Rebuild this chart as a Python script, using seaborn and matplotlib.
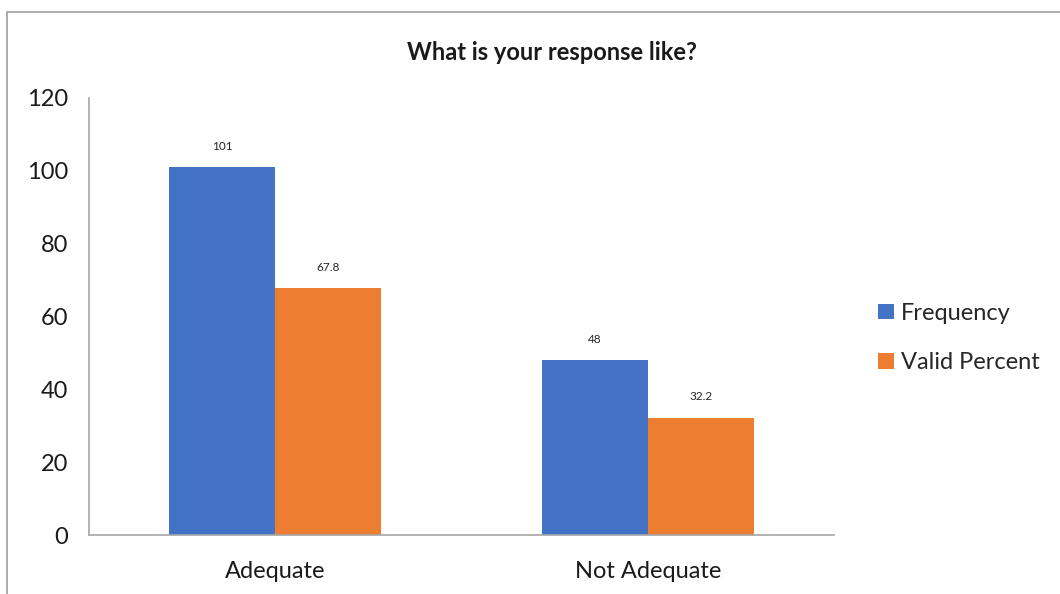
import matplotlib
matplotlib.use("Agg")
import matplotlib.pyplot as plt
import seaborn as sns
import pandas as pd
from matplotlib.patches import Rectangle

# Survey responses: counts and valid percentages
categories = ["Adequate", "Not Adequate"]
series_names = ["Frequency", "Valid Percent"]
frequency = [101, 48]
valid_percent = [67.8, 32.2]
y_ticks = [0, 20, 40, 60, 80, 100, 120]

df = pd.DataFrame({
    "Response": categories * 2,
    "Series": [series_names[0]] * len(categories) + [series_names[1]] * len(categories),
    "Value": frequency + valid_percent,
})

sns.set_theme(style="white")
plt.rcParams["font.family"] = ["Lato", "DejaVu Sans"]

fig = plt.figure(figsize=(10.6, 5.94), dpi=100)
ax = fig.add_axes([89 / 1060, 59 / 594, 745 / 1060, 437 / 594])

palette = {"Frequency": "#4472C4", "Valid Percent": "#ED7D31"}
sns.barplot(data=df, x="Response", y="Value", hue="Series", palette=palette,
            width=0.57, saturation=1, linewidth=0, ax=ax, legend=True)

for cont in ax.containers:
    labels = [f"{v:g}" for v in cont.datavalues]
    ax.bar_label(cont, labels=labels, padding=11, fontsize=8.5, color="#262626")

ax.set_ylim(0, 120)
ax.set_yticks(y_ticks)
ax.set_xlim(-0.5, 1.5)
ax.set_xlabel("")
ax.set_ylabel("")
ax.tick_params(axis="y", length=0, pad=15, labelsize=17, labelcolor="#1a1a1a")
ax.tick_params(axis="x", length=0, pad=19, labelsize=17, labelcolor="#1a1a1a")
for side in ["top", "right"]:
    ax.spines[side].set_visible(False)
for side in ["left", "bottom"]:
    ax.spines[side].set_color("#A6A6A6")
    ax.spines[side].set_linewidth(1.2)

fig.text(552 / 1060, 1 - 52 / 594, "What is your response like?", ha="center", va="center",
         fontsize=17, fontweight="bold", color="#1a1a1a")

ax.legend(loc="center left", bbox_to_anchor=(857 / 1060, 1 - 338 / 594),
          bbox_transform=fig.transFigure, frameon=False, fontsize=17,
          handlelength=0.65, handleheight=0.65, handletextpad=0.3, labelspacing=1.2)

# Outer chart-area frame
fig.patches.append(Rectangle((7 / 1060, -0.05), 1.2, 1 - 12 / 594 + 0.05,
                             transform=fig.transFigure, fill=False,
                             edgecolor="#A6A6A6", linewidth=1.3))

fig.savefig("out.png", dpi=100)
